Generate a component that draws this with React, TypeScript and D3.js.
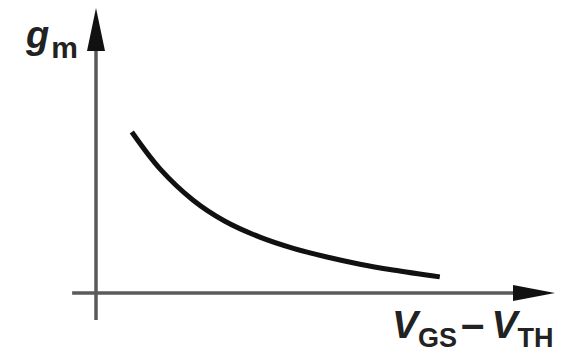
import React, { useEffect, useRef } from "react";
import * as d3 from "d3";

// gm versus overdrive voltage (arbitrary units)
const overdrive = [7.8, 14, 21.1, 28, 35.7, 43, 50.3, 57.5, 64.7, 74.9];
const transconductance = [55.9, 43, 32.3, 25, 19.4, 15.5, 12.5, 10, 8.0, 5.6];

const xAxisRange = [-5.2, 100];
const yAxisRange = [-9.4, 100];

const App = () => {
  const ref = useRef<SVGSVGElement>(null);

  useEffect(() => {
    const svg = d3.select(ref.current);
    svg.selectAll("*").remove();

    const x = d3.scaleLinear().domain([0, 100]).range([96, 555]);
    const y = d3.scaleLinear().domain([0, 100]).range([293, 5]);

    const axisColor = "#5a5a5a";
    const ink = "#111";

    // horizontal axis
    svg.append("line")
      .attr("x1", x(xAxisRange[0]))
      .attr("x2", x(xAxisRange[1]) - 30)
      .attr("y1", y(0))
      .attr("y2", y(0))
      .attr("stroke", axisColor)
      .attr("stroke-width", 3.5);
    const xt = x(xAxisRange[1]);
    svg.append("path")
      .attr("d", `M${xt},${y(0)} L${xt - 42},${y(0) - 8} L${xt - 42},${y(0) + 8} Z`)
      .attr("fill", ink);

    // vertical axis
    svg.append("line")
      .attr("x1", x(0))
      .attr("x2", x(0))
      .attr("y1", y(yAxisRange[0]))
      .attr("y2", y(yAxisRange[1]) + 30)
      .attr("stroke", axisColor)
      .attr("stroke-width", 3.5);
    const yt = y(yAxisRange[1]) + 3;
    svg.append("path")
      .attr("d", `M${x(0)},${yt} L${x(0) - 9},${yt + 43} L${x(0) + 9},${yt + 43} Z`)
      .attr("fill", ink);

    // curve
    const line = d3.line<number>()
      .x((_, i) => x(overdrive[i]))
      .y(d => y(d))
      .curve(d3.curveCatmullRom);
    svg.append("path")
      .datum(transconductance)
      .attr("d", line)
      .attr("fill", "none")
      .attr("stroke", ink)
      .attr("stroke-width", 5);

    const font = "'Liberation Sans', Arial, sans-serif";

    // y label
    const yl = svg.append("text")
      .attr("x", 26)
      .attr("y", 48)
      .attr("font-family", font)
      .attr("font-weight", "bold")
      .attr("fill", "#222");
    yl.append("tspan").attr("font-style", "italic").attr("font-size", 38).text("g");
    yl.append("tspan").attr("font-size", 30).attr("dx", 2).attr("dy", 10).text("m");

    // x label
    const xl = svg.append("text")
      .attr("x", 392)
      .attr("y", 338)
      .attr("font-family", font)
      .attr("font-weight", "bold")
      .attr("fill", "#222");
    xl.append("tspan").attr("font-style", "italic").attr("font-size", 39).text("V");
    xl.append("tspan").attr("font-size", 27).attr("dy", 9).text("GS");
    xl.append("tspan").attr("font-size", 42).attr("dx", 4).attr("dy", -9).text("–");
    xl.append("tspan").attr("font-style", "italic").attr("font-size", 39).attr("dx", 7).text("V");
    xl.append("tspan").attr("font-size", 27).attr("dy", 9).text("TH");
  }, []);

  return (
    <svg
      ref={ref}
      width={566}
      height={354}
      style={{ position: "absolute", left: 0, top: 0, background: "#fff" }}
    />
  );
};

export default App;
